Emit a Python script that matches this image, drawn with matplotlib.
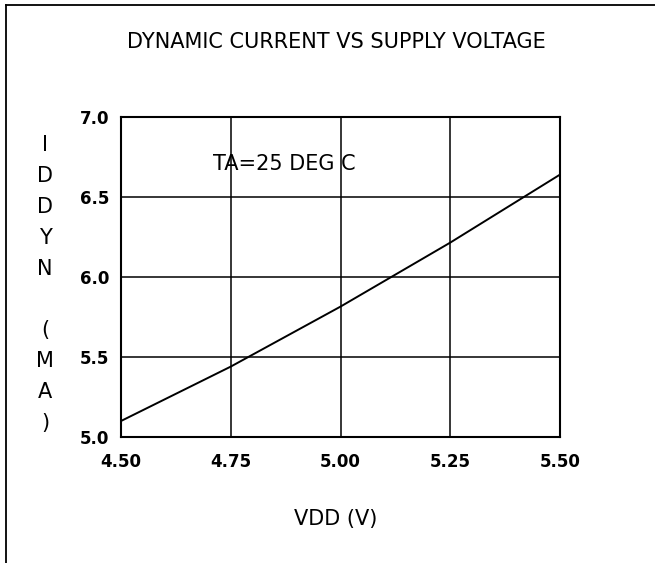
import matplotlib
matplotlib.use('Agg')
import matplotlib.pyplot as plt
from matplotlib.lines import Line2D

# ---- data ----
vdd = [4.50, 4.75, 5.00, 5.25, 5.50]
iddyn = [5.10, 5.44, 5.815, 6.215, 6.64]

x_ticks = [4.50, 4.75, 5.00, 5.25, 5.50]
x_tick_labels = ['4.50', '4.75', '5.00', '5.25', '5.50']
y_ticks = [5.0, 5.5, 6.0, 6.5, 7.0]
y_tick_labels = ['5.0', '5.5', '6.0', '6.5', '7.0']

title_text = 'DYNAMIC CURRENT VS SUPPLY VOLTAGE'
x_label = 'VDD (V)'
y_label = 'IDDYN (MA)'
note_text = 'TA=25 DEG C'
note_pos = (4.871, 6.72)

plt.rcParams['font.family'] = ['DejaVu Sans']

W, H = 655, 563
fig = plt.figure(figsize=(W / 100, H / 100), dpi=100)
fig.patch.set_facecolor('white')

# page frame (left and top edges)
fig.add_artist(Line2D([6 / W, 6 / W], [0, 1 - 5 / H], transform=fig.transFigure,
                      color='black', lw=1.3))
fig.add_artist(Line2D([6 / W, 1], [1 - 5 / H, 1 - 5 / H], transform=fig.transFigure,
                      color='black', lw=1.3))

ax = fig.add_axes([121 / W, 1 - 437 / H, 439 / W, 320 / H])
ax.plot(vdd, iddyn, color='black', lw=1.4, solid_joinstyle='round')
ax.set_xlim(4.5, 5.5)
ax.set_ylim(5.0, 7.0)
ax.set_xticks(x_ticks)
ax.set_xticklabels(x_tick_labels)
ax.set_yticks(y_ticks)
ax.set_yticklabels(y_tick_labels)
ax.grid(True, color='black', lw=1.1)
ax.set_axisbelow(True)
ax.tick_params(axis='both', length=0, labelsize=12)
ax.tick_params(axis='x', pad=11.5)
ax.tick_params(axis='y', pad=8.6)
for lbl in ax.get_xticklabels() + ax.get_yticklabels():
    lbl.set_fontweight('bold')
for sp in ax.spines.values():
    sp.set_linewidth(1.5)
    sp.set_color('black')

ax.text(note_pos[0], note_pos[1], note_text, fontsize=15, ha='center',
        va='center_baseline', color='black')

# title
fig.text(336 / W, 1 - 47.5 / H, title_text, fontsize=15, ha='center',
         va='baseline', color='black')

# x label
ax.set_xlabel(x_label, fontsize=15, va='baseline')
ax.xaxis.set_label_coords((336 - 121) / 439, (437 - 525.5) / 320)

# y label, stacked letters
ax.set_ylabel('\n'.join(y_label), fontsize=15, rotation=0, ha='center',
              va='center', multialignment='center', linespacing=1.68)
ax.yaxis.set_label_coords((45 - 121) / 439, (437 - 284) / 320)

fig.savefig('out.png', dpi=100, facecolor='white')
